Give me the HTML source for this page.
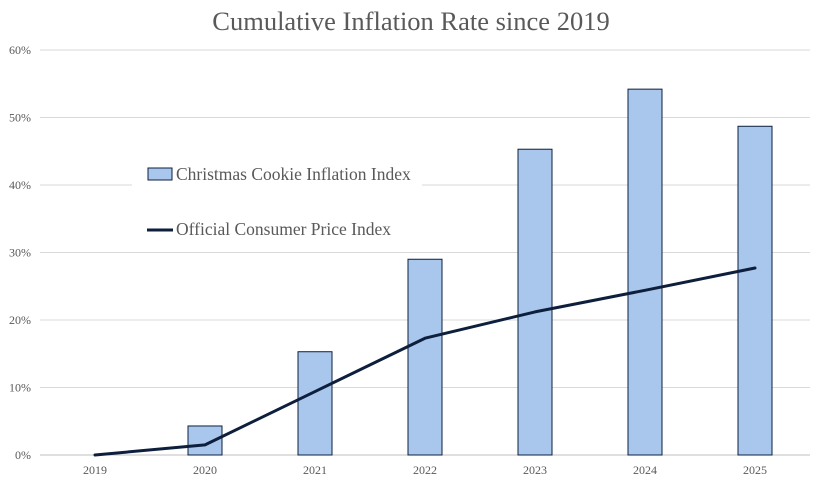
<!DOCTYPE html>
<html><head><meta charset="utf-8"><style>
body{margin:0;background:#fff;}
svg{display:block;font-family:"Liberation Serif",serif;}
</style></head><body>
<svg id="chart" width="823" height="503" viewBox="0 0 823 503">
<text x="411" y="30" text-anchor="middle" font-size="26.5" fill="#595959">Cumulative Inflation Rate since 2019</text>
<g id="grid"></g><g id="bars"></g><g id="line"></g><g id="xlabels"></g>
<g>
<rect x="132" y="150" width="290" height="102" fill="#fff"/>
<g>
<rect x="148" y="168" width="24" height="12" fill="#a9c7ec" stroke="#0d1f3c" stroke-width="1"/>
<text x="176" y="180" font-size="17.5" fill="#595959">Christmas Cookie Inflation Index</text></g>
<g>
<line x1="147" y1="230" x2="173" y2="230" stroke="#0d1f3c" stroke-width="3"/>
<text x="176" y="235" font-size="17.5" fill="#595959">Official Consumer Price Index</text></g>
</g>
</svg>
<script>
const categories=["2019","2020","2021","2022","2023","2024","2025"];
const cookieValues=[0,4.3,15.3,29.0,45.3,54.2,48.7];
const cpiValues=[0,1.5,9.4,17.3,21.2,24.4,27.7];
const yTicks=[0,10,20,30,40,50,60];
const NS="http://www.w3.org/2000/svg";
const y=v=>455-v*6.75;
const x=i=>95+i*110;
function mk(t,a,p){const e=document.createElementNS(NS,t);for(const k in a)e.setAttribute(k,a[k]);p.appendChild(e);return e;}
const grid=document.getElementById('grid');
yTicks.forEach(t=>{
 const l=mk('line',{x1:40,x2:810,y1:y(t),y2:y(t),stroke:t===0?'#bfbfbf':'#d9d9d9','stroke-width':1},grid);
 
 
 const tx=mk('text',{x:31,y:y(t)+4,'text-anchor':'end','font-size':12,fill:'#595959'},grid);
 tx.textContent=t+'%';
 
 
});
const bars=document.getElementById('bars');
cookieValues.forEach((v,i)=>{
 if(v<=0)return;
 const r=mk('rect',{x:x(i)-17,y:y(v),width:34,height:y(0)-y(v),fill:'#a9c7ec',stroke:'#0d1f3c','stroke-width':1},bars);
 
 
});
const pl=mk('polyline',{points:cpiValues.map((v,i)=>x(i)+','+y(v)).join(' '),fill:'none',stroke:'#0d1f3c','stroke-width':3,'stroke-linejoin':'round','stroke-linecap':'round'},document.getElementById('line'));


const xl=document.getElementById('xlabels');
categories.forEach((c,i)=>{
 const t=mk('text',{x:x(i),y:474,'text-anchor':'middle','font-size':12,fill:'#595959'},xl);
 t.textContent=c;
 
 
});
</script>
</body></html>
